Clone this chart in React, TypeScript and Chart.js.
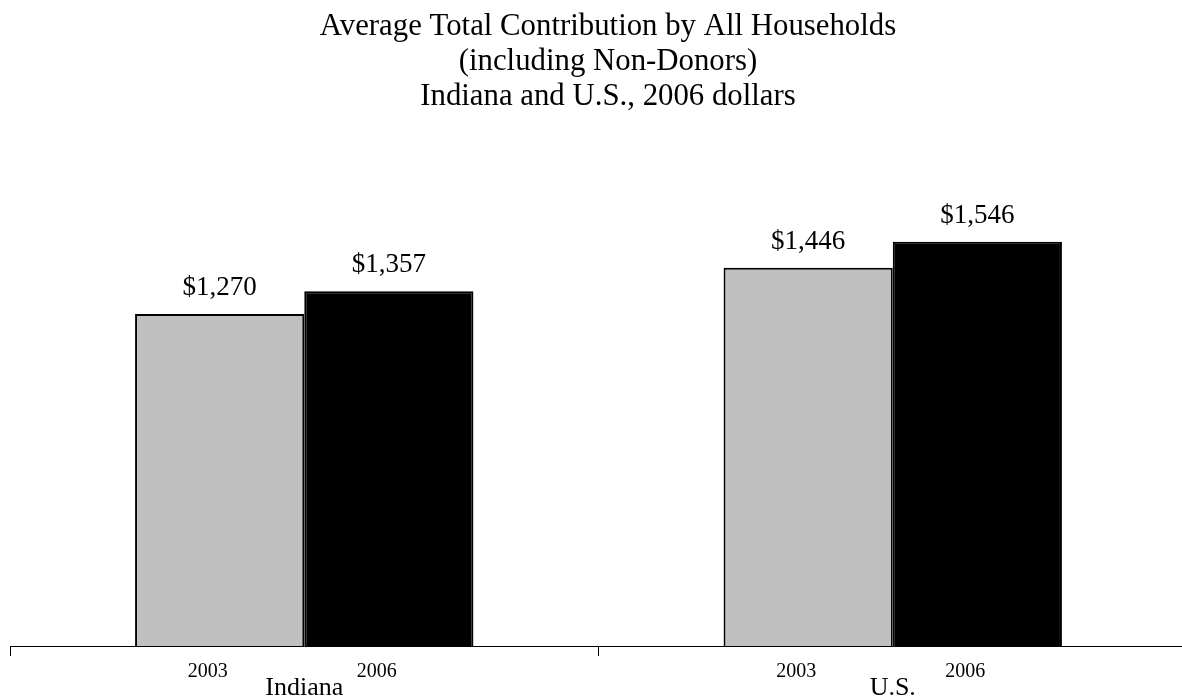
import React, { useEffect, useRef } from "react";
import { Chart, registerables } from "chart.js";

Chart.register(...registerables);

const categories = ["Indiana", "U.S."];
const seriesLabels = ["2003", "2006"];
const values2003 = [1270, 1446];
const values2006 = [1357, 1546];
const titleLines = [
  "Average Total Contribution by All Households",
  "(including Non-Donors)",
  "Indiana and U.S., 2006 dollars",
];

const SERIF = "'Liberation Serif', 'Times New Roman', Times, serif";

const fmt = (v: number) => "$" + v.toLocaleString("en-US");

const labelPlugin = {
  id: "barLabels",
  afterDraw(chart: any) {
    const ctx = chart.ctx;
    const area = chart.chartArea;
    ctx.save();
    ctx.fillStyle = "#000";
    ctx.textAlign = "center";
    ctx.textBaseline = "alphabetic";
    // title
    ctx.font = `30.8px ${SERIF}`;
    const tx = chart.width / 2 + 14.5;
    titleLines.forEach((line, i) => {
      ctx.fillText(line, tx, 35 + i * 35);
    });
    // value labels and series labels
    chart.data.datasets.forEach((ds: any, di: number) => {
      const meta = chart.getDatasetMeta(di);
      meta.data.forEach((bar: any, i: number) => {
        ctx.font = `27px ${SERIF}`;
        ctx.fillText(fmt(ds.data[i]), bar.x, bar.y - 19);
        ctx.font = `20px ${SERIF}`;
        ctx.fillText(ds.label, bar.x - 12, area.bottom + 31);
      });
    });
    // category labels
    const xScale = chart.scales.x;
    ctx.font = `26px ${SERIF}`;
    chart.data.labels.forEach((lab: string, i: number) => {
      ctx.fillText(lab, xScale.getPixelForValue(i), area.bottom + 49);
    });
    ctx.restore();
  },
};

export default function App() {
  const ref = useRef<HTMLCanvasElement>(null);
  useEffect(() => {
    if (!ref.current) return;
    const chart = new Chart(ref.current, {
      type: "bar",
      data: {
        labels: categories,
        datasets: [
          {
            label: seriesLabels[0],
            data: values2003,
            backgroundColor: "#c0c0c0",
            borderColor: "#000",
            borderWidth: 2,
            categoryPercentage: 0.575,
            barPercentage: 1,
          },
          {
            label: seriesLabels[1],
            data: values2006,
            backgroundColor: "#000",
            borderColor: "#000",
            borderWidth: 2,
            categoryPercentage: 0.575,
            barPercentage: 1,
          },
        ],
      },
      options: {
        animation: false,
        responsive: true,
        maintainAspectRatio: false,
        layout: { padding: { left: 10, right: 0, top: 123, bottom: 42 } },
        plugins: {
          legend: { display: false },
          tooltip: { enabled: false },
          title: { display: false },
        },
        scales: {
          x: {
            offset: true,
            border: { display: true, color: "#000", width: 1 },
            grid: {
              display: true,
              offset: true,
              drawOnChartArea: false,
              drawTicks: true,
              tickLength: 10,
              color: "#000",
            },
            ticks: { display: false },
          },
          y: {
            display: false,
            min: 0,
            max: 2000,
          },
        },
      },
      plugins: [labelPlugin],
    });
    return () => chart.destroy();
  }, []);
  return (
    <div style={{ position: "absolute", left: 0, top: 0, width: 1182, height: 698, overflow: "hidden" }}>
      <div style={{ position: "absolute", left: 0, top: 0, width: 1187, height: 698 }}>
        <canvas ref={ref} />
      </div>
    </div>
  );
}
